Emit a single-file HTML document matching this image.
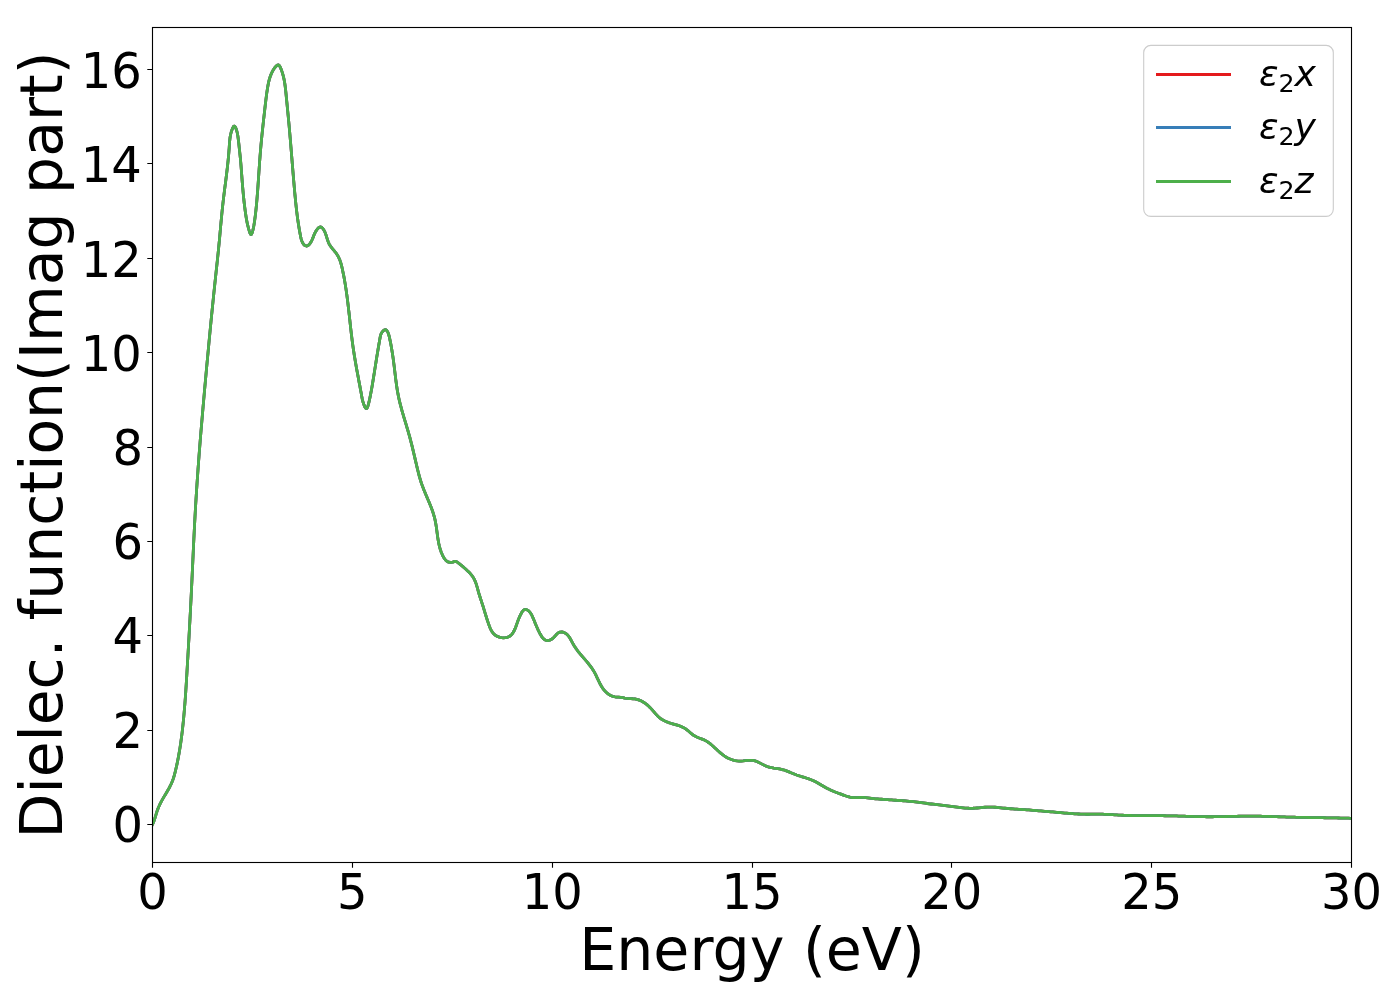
<!DOCTYPE html>
<html><head><meta charset="utf-8"><title>Dielectric function</title>
<style>
html,body{margin:0;padding:0;background:#fff;}
svg{display:block;}
text{font-family:'DejaVu Sans', 'Liberation Sans', sans-serif;fill:#000;}
</style></head><body>
<svg width="1400" height="1000" viewBox="0 0 1400 1000">
<rect x="0" y="0" width="1400" height="1000" fill="#fff"/>
<defs><clipPath id="ax"><rect x="152.5" y="27.5" width="1199.0" height="835.0"/></clipPath></defs>
<g clip-path="url(#ax)" fill="none" stroke-width="2.78" stroke-linejoin="round" stroke-linecap="square">
<path d="M152.50,824.50 153.35,822.69 154.07,820.83 154.71,818.93 155.29,817.01 155.85,815.08 156.43,813.15 157.04,811.25 157.72,809.38 158.46,807.53 159.26,805.71 160.11,803.91 161.01,802.13 161.95,800.37 162.93,798.63 163.93,796.90 164.96,795.18 165.99,793.46 167.01,791.73 168.02,790.00 169.00,788.26 169.94,786.50 170.83,784.72 171.66,782.91 172.42,781.07 173.10,779.19 173.72,777.29 174.29,775.37 174.81,773.43 175.30,771.48 175.77,769.52 176.22,767.56 176.66,765.60 177.08,763.64 177.49,761.68 177.88,759.72 178.26,757.75 178.63,755.78 178.99,753.81 179.33,751.84 179.66,749.87 179.98,747.90 180.28,745.93 180.58,743.95 180.87,741.98 181.14,740.00 181.41,738.02 181.67,736.04 181.92,734.06 182.16,732.08 182.39,730.10 182.61,728.11 182.83,726.13 183.04,724.14 183.25,722.16 183.45,720.17 183.64,718.18 183.83,716.19 184.01,714.20 184.18,712.21 184.36,710.22 184.52,708.23 184.68,706.24 184.84,704.24 184.99,702.25 185.14,700.26 185.29,698.26 185.43,696.27 185.57,694.27 185.71,692.28 185.84,690.28 185.97,688.28 186.10,686.29 186.22,684.29 186.35,682.29 186.47,680.30 186.59,678.30 186.71,676.30 186.83,674.30 186.95,672.30 187.07,670.31 187.19,668.31 187.30,666.31 187.42,664.31 187.54,662.32 187.65,660.32 187.77,658.32 187.89,656.32 188.00,654.32 188.12,652.33 188.23,650.33 188.35,648.33 188.46,646.33 188.58,644.33 188.69,642.34 188.80,640.34 188.92,638.34 189.03,636.34 189.14,634.34 189.25,632.35 189.36,630.35 189.47,628.35 189.58,626.35 189.69,624.36 189.80,622.36 189.91,620.36 190.02,618.36 190.12,616.37 190.23,614.37 190.34,612.37 190.44,610.37 190.55,608.37 190.65,606.38 190.75,604.38 190.85,602.38 190.96,600.38 191.06,598.39 191.16,596.39 191.26,594.39 191.35,592.39 191.45,590.40 191.55,588.40 191.65,586.40 191.74,584.41 191.84,582.41 191.93,580.41 192.02,578.41 192.12,576.42 192.21,574.42 192.30,572.42 192.39,570.42 192.49,568.43 192.58,566.43 192.67,564.43 192.76,562.44 192.85,560.44 192.94,558.44 193.04,556.45 193.13,554.45 193.22,552.45 193.31,550.45 193.41,548.46 193.50,546.46 193.60,544.46 193.69,542.47 193.79,540.47 193.88,538.47 193.98,536.48 194.08,534.48 194.18,532.48 194.28,530.49 194.38,528.49 194.48,526.50 194.58,524.50 194.69,522.50 194.79,520.51 194.90,518.51 195.01,516.51 195.12,514.52 195.23,512.52 195.34,510.53 195.46,508.53 195.57,506.53 195.69,504.54 195.81,502.54 195.93,500.55 196.05,498.55 196.18,496.56 196.30,494.56 196.43,492.56 196.56,490.57 196.69,488.57 196.82,486.58 196.96,484.58 197.09,482.59 197.23,480.59 197.37,478.60 197.50,476.60 197.65,474.61 197.79,472.61 197.93,470.62 198.07,468.62 198.22,466.63 198.37,464.63 198.52,462.64 198.66,460.64 198.82,458.65 198.97,456.65 199.12,454.66 199.27,452.66 199.43,450.67 199.59,448.68 199.74,446.68 199.90,444.69 200.06,442.69 200.22,440.70 200.38,438.71 200.54,436.71 200.71,434.72 200.87,432.72 201.04,430.73 201.20,428.74 201.37,426.74 201.54,424.75 201.71,422.76 201.88,420.76 202.05,418.77 202.22,416.78 202.39,414.78 202.56,412.79 202.74,410.80 202.91,408.80 203.08,406.81 203.26,404.82 203.44,402.83 203.61,400.83 203.79,398.84 203.97,396.85 204.15,394.86 204.32,392.86 204.50,390.87 204.68,388.88 204.86,386.89 205.04,384.90 205.23,382.90 205.41,380.91 205.59,378.92 205.77,376.93 205.96,374.94 206.14,372.95 206.32,370.96 206.51,368.96 206.69,366.97 206.87,364.98 207.06,362.99 207.24,361.00 207.43,359.01 207.61,357.02 207.80,355.03 207.99,353.04 208.17,351.05 208.36,349.06 208.55,347.07 208.74,345.08 208.92,343.08 209.11,341.09 209.30,339.10 209.49,337.11 209.68,335.12 209.87,333.13 210.07,331.15 210.26,329.16 210.45,327.17 210.64,325.18 210.84,323.19 211.03,321.20 211.23,319.21 211.42,317.22 211.62,315.23 211.82,313.24 212.02,311.25 212.22,309.26 212.42,307.27 212.62,305.28 212.82,303.29 213.02,301.30 213.23,299.31 213.43,297.33 213.64,295.34 213.84,293.35 214.05,291.36 214.26,289.37 214.47,287.38 214.68,285.39 214.89,283.40 215.10,281.41 215.32,279.42 215.53,277.44 215.74,275.45 215.96,273.46 216.17,271.47 216.38,269.48 216.60,267.49 216.81,265.50 217.02,263.51 217.23,261.53 217.44,259.54 217.65,257.55 217.86,255.56 218.07,253.57 218.27,251.58 218.47,249.59 218.67,247.60 218.87,245.61 219.07,243.63 219.26,241.64 219.45,239.65 219.64,237.66 219.82,235.67 220.00,233.68 220.18,231.69 220.36,229.70 220.54,227.71 220.72,225.72 220.90,223.74 221.08,221.75 221.26,219.76 221.45,217.77 221.64,215.78 221.83,213.79 222.03,211.80 222.23,209.81 222.44,207.82 222.66,205.83 222.88,203.84 223.11,201.85 223.34,199.86 223.58,197.87 223.82,195.88 224.07,193.89 224.32,191.91 224.57,189.92 224.82,187.93 225.08,185.94 225.33,183.95 225.58,181.96 225.84,179.98 226.09,177.99 226.34,176.00 226.58,174.01 226.82,172.03 227.06,170.04 227.29,168.06 227.51,166.07 227.73,164.09 227.94,162.11 228.15,160.13 228.34,158.14 228.53,156.16 228.70,154.18 228.87,152.20 229.02,150.23 229.17,148.25 229.29,146.27 229.42,144.29 229.56,142.31 229.74,140.32 229.97,138.32 230.27,136.31 230.68,134.28 231.19,132.23 231.85,130.15 232.66,128.06 233.59,126.41 234.56,126.08 235.49,127.35 236.30,129.38 236.93,131.48 237.40,133.53 237.77,135.55 238.06,137.53 238.32,139.50 238.56,141.45 238.78,143.40 239.00,145.35 239.21,147.32 239.42,149.30 239.64,151.30 239.85,153.31 240.07,155.32 240.27,157.34 240.47,159.34 240.65,161.34 240.82,163.34 240.99,165.32 241.15,167.30 241.30,169.28 241.45,171.26 241.59,173.24 241.74,175.22 241.88,177.20 242.03,179.18 242.18,181.17 242.34,183.17 242.50,185.17 242.66,187.18 242.84,189.19 243.02,191.21 243.20,193.22 243.40,195.23 243.60,197.25 243.81,199.25 244.02,201.25 244.25,203.24 244.48,205.23 244.72,207.20 244.97,209.17 245.23,211.11 245.51,213.05 245.79,214.97 246.08,216.87 246.40,218.78 246.75,220.71 247.14,222.67 247.58,224.67 248.09,226.75 248.66,228.89 249.32,231.14 250.05,233.27 250.81,234.56 251.57,234.25 252.28,232.53 252.89,230.26 253.38,228.10 253.78,226.07 254.11,224.12 254.40,222.19 254.68,220.25 254.95,218.29 255.21,216.32 255.45,214.35 255.68,212.36 255.90,210.37 256.11,208.38 256.31,206.38 256.50,204.38 256.69,202.38 256.86,200.38 257.04,198.38 257.20,196.39 257.36,194.39 257.52,192.40 257.67,190.40 257.81,188.41 257.95,186.42 258.09,184.42 258.23,182.43 258.37,180.44 258.50,178.44 258.63,176.45 258.77,174.46 258.90,172.47 259.03,170.48 259.17,168.49 259.30,166.49 259.44,164.50 259.58,162.51 259.72,160.52 259.87,158.53 260.02,156.53 260.18,154.54 260.34,152.55 260.50,150.55 260.68,148.56 260.85,146.56 261.03,144.57 261.22,142.57 261.41,140.58 261.61,138.58 261.81,136.59 262.01,134.59 262.22,132.60 262.43,130.60 262.64,128.61 262.86,126.62 263.07,124.63 263.29,122.63 263.51,120.64 263.74,118.65 263.96,116.66 264.18,114.68 264.41,112.69 264.64,110.70 264.86,108.72 265.09,106.74 265.31,104.76 265.54,102.78 265.77,100.80 266.01,98.82 266.26,96.85 266.52,94.88 266.79,92.91 267.08,90.94 267.39,88.98 267.72,87.01 268.07,85.05 268.46,83.10 268.89,81.15 269.40,79.21 269.98,77.29 270.65,75.38 271.43,73.48 272.33,71.61 273.36,69.76 274.54,68.00 275.88,66.38 277.32,65.17 278.63,65.00 279.70,66.08 280.60,67.89 281.38,69.88 282.08,71.88 282.69,73.87 283.24,75.86 283.72,77.85 284.13,79.84 284.50,81.83 284.82,83.81 285.11,85.80 285.36,87.78 285.59,89.76 285.80,91.75 286.00,93.73 286.19,95.71 286.39,97.69 286.59,99.67 286.79,101.65 286.98,103.63 287.18,105.62 287.38,107.60 287.57,109.58 287.77,111.56 287.96,113.55 288.16,115.53 288.35,117.52 288.54,119.51 288.72,121.50 288.90,123.49 289.09,125.48 289.26,127.47 289.44,129.46 289.62,131.46 289.79,133.45 289.96,135.45 290.13,137.45 290.30,139.44 290.47,141.44 290.64,143.44 290.80,145.44 290.97,147.44 291.13,149.44 291.30,151.43 291.46,153.43 291.62,155.43 291.79,157.43 291.95,159.43 292.11,161.43 292.27,163.42 292.44,165.42 292.60,167.42 292.76,169.41 292.93,171.41 293.09,173.40 293.26,175.39 293.43,177.39 293.60,179.38 293.77,181.37 293.94,183.35 294.11,185.34 294.28,187.33 294.46,189.31 294.64,191.29 294.82,193.27 295.00,195.25 295.19,197.23 295.38,199.21 295.58,201.19 295.78,203.17 295.99,205.15 296.21,207.12 296.43,209.11 296.66,211.09 296.91,213.07 297.16,215.06 297.42,217.04 297.69,219.03 297.97,221.03 298.27,223.02 298.58,225.02 298.90,227.03 299.23,229.03 299.58,231.05 299.95,233.06 300.33,235.08 300.73,237.10 301.21,239.07 301.81,240.94 302.57,242.67 303.55,244.21 304.80,245.49 306.37,246.07 308.13,245.44 309.69,243.95 310.96,242.02 311.97,240.05 312.78,238.17 313.50,236.37 314.20,234.61 314.97,232.88 315.91,231.15 317.09,229.41 318.57,227.76 320.18,226.85 321.74,227.32 323.13,228.87 324.26,230.74 325.15,232.64 325.86,234.55 326.48,236.46 327.05,238.35 327.64,240.22 328.31,242.05 329.10,243.84 330.07,245.56 331.25,247.21 332.56,248.82 333.91,250.42 335.25,252.02 336.47,253.64 337.55,255.32 338.49,257.03 339.31,258.79 340.02,260.58 340.64,262.40 341.18,264.26 341.67,266.14 342.12,268.05 342.54,269.98 342.95,271.93 343.35,273.90 343.74,275.88 344.11,277.87 344.48,279.87 344.83,281.87 345.17,283.88 345.49,285.89 345.81,287.89 346.11,289.90 346.40,291.89 346.68,293.89 346.96,295.88 347.22,297.87 347.48,299.86 347.73,301.85 347.97,303.83 348.20,305.82 348.44,307.80 348.66,309.78 348.89,311.76 349.11,313.73 349.33,315.71 349.54,317.68 349.76,319.66 349.98,321.63 350.19,323.61 350.41,325.58 350.63,327.56 350.85,329.53 351.08,331.50 351.31,333.48 351.54,335.45 351.79,337.43 352.03,339.41 352.29,341.38 352.55,343.36 352.82,345.34 353.10,347.33 353.39,349.31 353.69,351.29 354.00,353.28 354.31,355.27 354.64,357.25 354.97,359.24 355.31,361.23 355.65,363.21 356.00,365.20 356.35,367.18 356.71,369.16 357.07,371.13 357.43,373.11 357.80,375.08 358.17,377.05 358.53,379.01 358.90,380.97 359.27,382.92 359.63,384.87 359.99,386.81 360.36,388.75 360.71,390.67 361.07,392.60 361.42,394.51 361.76,396.42 362.12,398.34 362.57,400.35 363.17,402.52 363.98,404.88 364.95,407.09 365.96,408.46 366.89,408.37 367.67,406.84 368.34,404.59 368.90,402.31 369.39,400.23 369.82,398.28 370.21,396.39 370.58,394.50 370.95,392.58 371.31,390.65 371.66,388.71 372.01,386.75 372.34,384.78 372.68,382.80 373.01,380.81 373.33,378.82 373.65,376.83 373.97,374.83 374.28,372.84 374.59,370.85 374.91,368.87 375.22,366.89 375.53,364.92 375.84,362.96 376.15,361.00 376.46,359.04 376.78,357.08 377.10,355.12 377.42,353.16 377.75,351.20 378.08,349.23 378.41,347.25 378.75,345.26 379.10,343.27 379.45,341.27 379.80,339.29 380.15,337.32 380.56,335.38 381.24,333.48 382.38,331.63 384.00,330.07 385.64,329.60 386.92,330.60 387.88,332.36 388.59,334.25 389.14,336.17 389.59,338.12 390.02,340.08 390.42,342.04 390.81,344.01 391.17,345.98 391.52,347.96 391.86,349.94 392.18,351.92 392.49,353.90 392.79,355.89 393.07,357.88 393.35,359.88 393.62,361.87 393.87,363.86 394.13,365.86 394.37,367.85 394.61,369.85 394.85,371.84 395.09,373.84 395.33,375.83 395.57,377.82 395.82,379.80 396.08,381.79 396.35,383.77 396.63,385.75 396.92,387.72 397.23,389.69 397.56,391.66 397.92,393.61 398.29,395.57 398.69,397.52 399.12,399.46 399.57,401.40 400.04,403.33 400.53,405.26 401.04,407.18 401.56,409.10 402.09,411.02 402.64,412.94 403.20,414.85 403.76,416.77 404.33,418.68 404.91,420.59 405.49,422.51 406.06,424.42 406.64,426.34 407.21,428.26 407.78,430.18 408.34,432.11 408.89,434.04 409.43,435.97 409.96,437.91 410.47,439.85 410.98,441.80 411.47,443.75 411.96,445.70 412.44,447.66 412.91,449.61 413.38,451.57 413.84,453.52 414.29,455.48 414.75,457.43 415.20,459.39 415.66,461.34 416.11,463.29 416.57,465.23 417.03,467.17 417.49,469.11 417.96,471.04 418.45,472.96 418.95,474.88 419.47,476.80 420.02,478.70 420.59,480.60 421.19,482.49 421.83,484.36 422.50,486.23 423.20,488.09 423.93,489.95 424.68,491.80 425.45,493.64 426.23,495.48 427.02,497.33 427.80,499.17 428.59,501.01 429.36,502.86 430.12,504.72 430.86,506.58 431.58,508.45 432.26,510.33 432.91,512.22 433.52,514.12 434.09,516.04 434.60,517.97 435.06,519.93 435.47,521.90 435.83,523.88 436.15,525.87 436.44,527.88 436.72,529.88 436.98,531.89 437.25,533.90 437.52,535.90 437.81,537.90 438.12,539.88 438.47,541.85 438.85,543.81 439.29,545.74 439.79,547.65 440.34,549.54 440.97,551.40 441.68,553.23 442.48,555.02 443.36,556.77 444.35,558.47 445.50,560.03 446.89,561.31 448.60,562.17 450.64,562.49 452.75,562.12 454.71,561.42 456.51,561.72 458.21,562.88 459.84,564.13 461.41,565.38 462.94,566.66 464.43,567.96 465.90,569.30 467.37,570.67 468.83,572.10 470.27,573.57 471.61,575.11 472.79,576.71 473.81,578.37 474.68,580.09 475.44,581.87 476.10,583.69 476.69,585.55 477.24,587.45 477.77,589.37 478.31,591.32 478.87,593.28 479.47,595.25 480.09,597.23 480.73,599.20 481.37,601.16 482.00,603.11 482.62,605.03 483.23,606.93 483.81,608.81 484.38,610.68 484.94,612.53 485.51,614.38 486.08,616.24 486.66,618.11 487.26,619.99 487.89,621.90 488.55,623.83 489.25,625.80 490.01,627.75 490.86,629.65 491.84,631.42 492.97,633.03 494.28,634.41 495.79,635.54 497.48,636.43 499.34,637.10 501.35,637.55 503.46,637.77 505.56,637.72 507.51,637.33 509.22,636.57 510.71,635.49 512.01,634.13 513.13,632.55 514.12,630.80 514.98,628.93 515.75,626.99 516.46,625.03 517.12,623.10 517.77,621.26 518.44,619.50 519.16,617.75 519.97,615.94 520.91,614.02 522.01,611.98 523.32,610.28 524.85,609.47 526.54,609.65 528.22,610.57 529.71,611.96 530.93,613.63 531.93,615.45 532.79,617.35 533.58,619.24 534.34,621.09 535.09,622.91 535.83,624.71 536.58,626.50 537.37,628.29 538.20,630.10 539.09,631.92 540.05,633.77 541.10,635.62 542.27,637.35 543.58,638.84 545.05,639.95 546.71,640.56 548.58,640.55 550.53,639.92 552.35,638.78 553.96,637.27 555.43,635.61 556.86,634.04 558.35,632.78 560.01,632.04 561.84,631.94 563.73,632.40 565.51,633.28 567.06,634.47 568.39,635.91 569.54,637.53 570.58,639.28 571.56,641.09 572.53,642.91 573.55,644.69 574.61,646.41 575.72,648.08 576.88,649.71 578.07,651.30 579.30,652.86 580.55,654.40 581.83,655.92 583.12,657.43 584.43,658.94 585.73,660.45 587.03,661.97 588.31,663.50 589.56,665.06 590.77,666.65 591.93,668.27 593.03,669.93 594.07,671.65 595.03,673.41 595.93,675.21 596.81,677.03 597.66,678.86 598.52,680.69 599.40,682.50 600.32,684.29 601.30,686.03 602.36,687.71 603.52,689.33 604.80,690.86 606.21,692.30 607.75,693.61 609.40,694.75 611.15,695.68 612.97,696.35 614.85,696.76 616.77,697.01 618.74,697.19 620.73,697.40 622.75,697.73 624.78,698.12 626.82,698.42 628.85,698.58 630.86,698.66 632.86,698.76 634.83,698.96 636.75,699.34 638.64,699.89 640.47,700.62 642.25,701.49 643.97,702.51 645.63,703.64 647.22,704.89 648.74,706.23 650.17,707.65 651.54,709.13 652.86,710.64 654.16,712.17 655.47,713.68 656.80,715.14 658.20,716.54 659.68,717.85 661.28,719.04 663.00,720.09 664.82,721.02 666.73,721.84 668.68,722.57 670.64,723.22 672.60,723.81 674.51,724.36 676.35,724.89 678.14,725.42 679.87,726.00 681.56,726.66 683.21,727.43 684.86,728.36 686.49,729.48 688.13,730.81 689.78,732.26 691.46,733.71 693.18,735.02 694.94,736.11 696.74,737.00 698.55,737.75 700.35,738.43 702.14,739.11 703.90,739.83 705.60,740.67 707.24,741.64 708.84,742.74 710.39,743.93 711.92,745.20 713.43,746.53 714.93,747.91 716.43,749.30 717.94,750.69 719.47,752.07 721.03,753.40 722.62,754.67 724.26,755.87 725.96,756.96 727.72,757.94 729.53,758.80 731.38,759.54 733.28,760.13 735.21,760.59 737.17,760.89 739.15,761.04 741.14,761.02 743.15,760.87 745.16,760.66 747.16,760.45 749.16,760.30 751.14,760.27 753.10,760.44 755.03,760.87 756.93,761.55 758.81,762.42 760.67,763.39 762.53,764.39 764.38,765.34 766.24,766.16 768.10,766.81 769.97,767.31 771.86,767.71 773.74,768.03 775.64,768.31 777.54,768.60 779.44,768.91 781.35,769.30 783.26,769.79 785.18,770.41 787.09,771.11 789.01,771.88 790.93,772.68 792.84,773.48 794.76,774.26 796.67,774.98 798.58,775.65 800.49,776.26 802.38,776.85 804.26,777.42 806.13,778.00 807.98,778.60 809.82,779.24 811.63,779.93 813.41,780.69 815.17,781.55 816.91,782.48 818.63,783.47 820.35,784.50 822.06,785.53 823.79,786.55 825.53,787.54 827.30,788.48 829.09,789.35 830.90,790.18 832.74,790.97 834.59,791.74 836.47,792.47 838.36,793.20 840.26,793.92 842.18,794.63 844.11,795.35 846.05,796.04 848.00,796.65 849.95,797.16 851.91,797.51 853.87,797.67 855.84,797.68 857.80,797.61 859.77,797.50 861.74,797.43 863.72,797.45 865.69,797.61 867.67,797.86 869.65,798.14 871.63,798.39 873.61,798.60 875.59,798.77 877.58,798.92 879.56,799.08 881.55,799.24 883.54,799.40 885.52,799.55 887.51,799.70 889.50,799.84 891.48,799.98 893.47,800.11 895.46,800.24 897.45,800.36 899.44,800.49 901.42,800.62 903.41,800.76 905.40,800.92 907.39,801.08 909.38,801.26 911.37,801.46 913.36,801.68 915.34,801.92 917.33,802.17 919.32,802.43 921.31,802.70 923.30,802.97 925.29,803.24 927.28,803.50 929.27,803.76 931.26,804.00 933.25,804.23 935.24,804.46 937.23,804.69 939.22,804.91 941.21,805.13 943.20,805.36 945.19,805.58 947.18,805.82 949.17,806.06 951.16,806.32 953.15,806.58 955.14,806.85 957.13,807.12 959.12,807.38 961.12,807.62 963.11,807.84 965.10,808.02 967.09,808.16 969.08,808.25 971.07,808.29 973.06,808.26 975.06,808.16 977.05,808.01 979.04,807.83 981.03,807.63 983.02,807.43 985.02,807.25 987.01,807.11 989.00,807.03 990.99,807.02 992.99,807.09 994.98,807.24 996.97,807.42 998.96,807.64 1000.96,807.86 1002.95,808.06 1004.94,808.25 1006.94,808.43 1008.93,808.59 1010.92,808.74 1012.91,808.88 1014.91,809.02 1016.90,809.15 1018.90,809.28 1020.89,809.41 1022.88,809.55 1024.88,809.69 1026.87,809.83 1028.86,809.98 1030.86,810.13 1032.85,810.29 1034.85,810.45 1036.84,810.62 1038.84,810.78 1040.83,810.95 1042.82,811.12 1044.82,811.29 1046.81,811.47 1048.81,811.64 1050.80,811.81 1052.80,811.99 1054.79,812.16 1056.79,812.33 1058.78,812.50 1060.78,812.67 1062.77,812.84 1064.77,813.01 1066.76,813.17 1068.76,813.33 1070.75,813.48 1072.75,813.63 1074.74,813.77 1076.74,813.89 1078.74,814.00 1080.73,814.10 1082.73,814.17 1084.72,814.22 1086.72,814.25 1088.72,814.25 1090.71,814.22 1092.71,814.17 1094.70,814.12 1096.70,814.10 1098.70,814.10 1100.69,814.13 1102.69,814.19 1104.69,814.28 1106.68,814.37 1108.68,814.48 1110.68,814.60 1112.67,814.73 1114.67,814.85 1116.67,814.97 1118.66,815.07 1120.66,815.17 1122.66,815.26 1124.65,815.33 1126.65,815.40 1128.65,815.45 1130.65,815.50 1132.64,815.54 1134.64,815.57 1136.64,815.60 1138.64,815.62 1140.63,815.64 1142.63,815.65 1144.63,815.66 1146.63,815.67 1148.62,815.68 1150.62,815.68 1152.62,815.69 1154.62,815.69 1156.61,815.70 1158.61,815.71 1160.61,815.72 1162.61,815.73 1164.61,815.75 1166.60,815.77 1168.60,815.80 1170.60,815.83 1172.60,815.87 1174.60,815.92 1176.60,815.97 1178.59,816.03 1180.59,816.09 1182.59,816.16 1184.59,816.22 1186.59,816.29 1188.59,816.35 1190.59,816.41 1192.58,816.48 1194.58,816.53 1196.58,816.59 1198.58,816.63 1200.58,816.67 1202.58,816.71 1204.58,816.73 1206.58,816.75 1208.57,816.75 1210.57,816.75 1212.57,816.74 1214.57,816.72 1216.57,816.69 1218.57,816.66 1220.57,816.63 1222.57,816.59 1224.57,816.54 1226.57,816.50 1228.57,816.45 1230.57,816.41 1232.56,816.36 1234.56,816.32 1236.56,816.28 1238.56,816.24 1240.56,816.20 1242.56,816.17 1244.56,816.15 1246.56,816.13 1248.56,816.12 1250.56,816.11 1252.56,816.12 1254.56,816.13 1256.56,816.16 1258.56,816.19 1260.56,816.23 1262.56,816.27 1264.56,816.32 1266.56,816.38 1268.56,816.43 1270.56,816.50 1272.56,816.56 1274.56,816.63 1276.56,816.70 1278.56,816.76 1280.56,816.83 1282.56,816.90 1284.56,816.96 1286.56,817.02 1288.56,817.08 1290.56,817.13 1292.56,817.19 1294.56,817.23 1296.56,817.28 1298.56,817.32 1300.56,817.36 1302.56,817.40 1304.56,817.44 1306.56,817.47 1308.56,817.51 1310.56,817.54 1312.56,817.57 1314.56,817.60 1316.56,817.63 1318.56,817.67 1320.56,817.70 1322.56,817.73 1324.56,817.76 1326.56,817.79 1328.56,817.82 1330.56,817.85 1332.56,817.88 1334.56,817.92 1336.56,817.96 1338.56,817.99 1340.56,818.03 1342.56,818.08 1344.56,818.12 1346.56,818.17 1348.57,818.22 1350.57,818.27 1351.50,818.30" stroke="#e41a1c"/>
<path d="M152.50,824.50 153.35,822.69 154.07,820.83 154.71,818.93 155.29,817.01 155.85,815.08 156.43,813.15 157.04,811.25 157.72,809.38 158.46,807.53 159.26,805.71 160.11,803.91 161.01,802.13 161.95,800.37 162.93,798.63 163.93,796.90 164.96,795.18 165.99,793.46 167.01,791.73 168.02,790.00 169.00,788.26 169.94,786.50 170.83,784.72 171.66,782.91 172.42,781.07 173.10,779.19 173.72,777.29 174.29,775.37 174.81,773.43 175.30,771.48 175.77,769.52 176.22,767.56 176.66,765.60 177.08,763.64 177.49,761.68 177.88,759.72 178.26,757.75 178.63,755.78 178.99,753.81 179.33,751.84 179.66,749.87 179.98,747.90 180.28,745.93 180.58,743.95 180.87,741.98 181.14,740.00 181.41,738.02 181.67,736.04 181.92,734.06 182.16,732.08 182.39,730.10 182.61,728.11 182.83,726.13 183.04,724.14 183.25,722.16 183.45,720.17 183.64,718.18 183.83,716.19 184.01,714.20 184.18,712.21 184.36,710.22 184.52,708.23 184.68,706.24 184.84,704.24 184.99,702.25 185.14,700.26 185.29,698.26 185.43,696.27 185.57,694.27 185.71,692.28 185.84,690.28 185.97,688.28 186.10,686.29 186.22,684.29 186.35,682.29 186.47,680.30 186.59,678.30 186.71,676.30 186.83,674.30 186.95,672.30 187.07,670.31 187.19,668.31 187.30,666.31 187.42,664.31 187.54,662.32 187.65,660.32 187.77,658.32 187.89,656.32 188.00,654.32 188.12,652.33 188.23,650.33 188.35,648.33 188.46,646.33 188.58,644.33 188.69,642.34 188.80,640.34 188.92,638.34 189.03,636.34 189.14,634.34 189.25,632.35 189.36,630.35 189.47,628.35 189.58,626.35 189.69,624.36 189.80,622.36 189.91,620.36 190.02,618.36 190.12,616.37 190.23,614.37 190.34,612.37 190.44,610.37 190.55,608.37 190.65,606.38 190.75,604.38 190.85,602.38 190.96,600.38 191.06,598.39 191.16,596.39 191.26,594.39 191.35,592.39 191.45,590.40 191.55,588.40 191.65,586.40 191.74,584.41 191.84,582.41 191.93,580.41 192.02,578.41 192.12,576.42 192.21,574.42 192.30,572.42 192.39,570.42 192.49,568.43 192.58,566.43 192.67,564.43 192.76,562.44 192.85,560.44 192.94,558.44 193.04,556.45 193.13,554.45 193.22,552.45 193.31,550.45 193.41,548.46 193.50,546.46 193.60,544.46 193.69,542.47 193.79,540.47 193.88,538.47 193.98,536.48 194.08,534.48 194.18,532.48 194.28,530.49 194.38,528.49 194.48,526.50 194.58,524.50 194.69,522.50 194.79,520.51 194.90,518.51 195.01,516.51 195.12,514.52 195.23,512.52 195.34,510.53 195.46,508.53 195.57,506.53 195.69,504.54 195.81,502.54 195.93,500.55 196.05,498.55 196.18,496.56 196.30,494.56 196.43,492.56 196.56,490.57 196.69,488.57 196.82,486.58 196.96,484.58 197.09,482.59 197.23,480.59 197.37,478.60 197.50,476.60 197.65,474.61 197.79,472.61 197.93,470.62 198.07,468.62 198.22,466.63 198.37,464.63 198.52,462.64 198.66,460.64 198.82,458.65 198.97,456.65 199.12,454.66 199.27,452.66 199.43,450.67 199.59,448.68 199.74,446.68 199.90,444.69 200.06,442.69 200.22,440.70 200.38,438.71 200.54,436.71 200.71,434.72 200.87,432.72 201.04,430.73 201.20,428.74 201.37,426.74 201.54,424.75 201.71,422.76 201.88,420.76 202.05,418.77 202.22,416.78 202.39,414.78 202.56,412.79 202.74,410.80 202.91,408.80 203.08,406.81 203.26,404.82 203.44,402.83 203.61,400.83 203.79,398.84 203.97,396.85 204.15,394.86 204.32,392.86 204.50,390.87 204.68,388.88 204.86,386.89 205.04,384.90 205.23,382.90 205.41,380.91 205.59,378.92 205.77,376.93 205.96,374.94 206.14,372.95 206.32,370.96 206.51,368.96 206.69,366.97 206.87,364.98 207.06,362.99 207.24,361.00 207.43,359.01 207.61,357.02 207.80,355.03 207.99,353.04 208.17,351.05 208.36,349.06 208.55,347.07 208.74,345.08 208.92,343.08 209.11,341.09 209.30,339.10 209.49,337.11 209.68,335.12 209.87,333.13 210.07,331.15 210.26,329.16 210.45,327.17 210.64,325.18 210.84,323.19 211.03,321.20 211.23,319.21 211.42,317.22 211.62,315.23 211.82,313.24 212.02,311.25 212.22,309.26 212.42,307.27 212.62,305.28 212.82,303.29 213.02,301.30 213.23,299.31 213.43,297.33 213.64,295.34 213.84,293.35 214.05,291.36 214.26,289.37 214.47,287.38 214.68,285.39 214.89,283.40 215.10,281.41 215.32,279.42 215.53,277.44 215.74,275.45 215.96,273.46 216.17,271.47 216.38,269.48 216.60,267.49 216.81,265.50 217.02,263.51 217.23,261.53 217.44,259.54 217.65,257.55 217.86,255.56 218.07,253.57 218.27,251.58 218.47,249.59 218.67,247.60 218.87,245.61 219.07,243.63 219.26,241.64 219.45,239.65 219.64,237.66 219.82,235.67 220.00,233.68 220.18,231.69 220.36,229.70 220.54,227.71 220.72,225.72 220.90,223.74 221.08,221.75 221.26,219.76 221.45,217.77 221.64,215.78 221.83,213.79 222.03,211.80 222.23,209.81 222.44,207.82 222.66,205.83 222.88,203.84 223.11,201.85 223.34,199.86 223.58,197.87 223.82,195.88 224.07,193.89 224.32,191.91 224.57,189.92 224.82,187.93 225.08,185.94 225.33,183.95 225.58,181.96 225.84,179.98 226.09,177.99 226.34,176.00 226.58,174.01 226.82,172.03 227.06,170.04 227.29,168.06 227.51,166.07 227.73,164.09 227.94,162.11 228.15,160.13 228.34,158.14 228.53,156.16 228.70,154.18 228.87,152.20 229.02,150.23 229.17,148.25 229.29,146.27 229.42,144.29 229.56,142.31 229.74,140.32 229.97,138.32 230.27,136.31 230.68,134.28 231.19,132.23 231.85,130.15 232.66,128.06 233.59,126.41 234.56,126.08 235.49,127.35 236.30,129.38 236.93,131.48 237.40,133.53 237.77,135.55 238.06,137.53 238.32,139.50 238.56,141.45 238.78,143.40 239.00,145.35 239.21,147.32 239.42,149.30 239.64,151.30 239.85,153.31 240.07,155.32 240.27,157.34 240.47,159.34 240.65,161.34 240.82,163.34 240.99,165.32 241.15,167.30 241.30,169.28 241.45,171.26 241.59,173.24 241.74,175.22 241.88,177.20 242.03,179.18 242.18,181.17 242.34,183.17 242.50,185.17 242.66,187.18 242.84,189.19 243.02,191.21 243.20,193.22 243.40,195.23 243.60,197.25 243.81,199.25 244.02,201.25 244.25,203.24 244.48,205.23 244.72,207.20 244.97,209.17 245.23,211.11 245.51,213.05 245.79,214.97 246.08,216.87 246.40,218.78 246.75,220.71 247.14,222.67 247.58,224.67 248.09,226.75 248.66,228.89 249.32,231.14 250.05,233.27 250.81,234.56 251.57,234.25 252.28,232.53 252.89,230.26 253.38,228.10 253.78,226.07 254.11,224.12 254.40,222.19 254.68,220.25 254.95,218.29 255.21,216.32 255.45,214.35 255.68,212.36 255.90,210.37 256.11,208.38 256.31,206.38 256.50,204.38 256.69,202.38 256.86,200.38 257.04,198.38 257.20,196.39 257.36,194.39 257.52,192.40 257.67,190.40 257.81,188.41 257.95,186.42 258.09,184.42 258.23,182.43 258.37,180.44 258.50,178.44 258.63,176.45 258.77,174.46 258.90,172.47 259.03,170.48 259.17,168.49 259.30,166.49 259.44,164.50 259.58,162.51 259.72,160.52 259.87,158.53 260.02,156.53 260.18,154.54 260.34,152.55 260.50,150.55 260.68,148.56 260.85,146.56 261.03,144.57 261.22,142.57 261.41,140.58 261.61,138.58 261.81,136.59 262.01,134.59 262.22,132.60 262.43,130.60 262.64,128.61 262.86,126.62 263.07,124.63 263.29,122.63 263.51,120.64 263.74,118.65 263.96,116.66 264.18,114.68 264.41,112.69 264.64,110.70 264.86,108.72 265.09,106.74 265.31,104.76 265.54,102.78 265.77,100.80 266.01,98.82 266.26,96.85 266.52,94.88 266.79,92.91 267.08,90.94 267.39,88.98 267.72,87.01 268.07,85.05 268.46,83.10 268.89,81.15 269.40,79.21 269.98,77.29 270.65,75.38 271.43,73.48 272.33,71.61 273.36,69.76 274.54,68.00 275.88,66.38 277.32,65.17 278.63,65.00 279.70,66.08 280.60,67.89 281.38,69.88 282.08,71.88 282.69,73.87 283.24,75.86 283.72,77.85 284.13,79.84 284.50,81.83 284.82,83.81 285.11,85.80 285.36,87.78 285.59,89.76 285.80,91.75 286.00,93.73 286.19,95.71 286.39,97.69 286.59,99.67 286.79,101.65 286.98,103.63 287.18,105.62 287.38,107.60 287.57,109.58 287.77,111.56 287.96,113.55 288.16,115.53 288.35,117.52 288.54,119.51 288.72,121.50 288.90,123.49 289.09,125.48 289.26,127.47 289.44,129.46 289.62,131.46 289.79,133.45 289.96,135.45 290.13,137.45 290.30,139.44 290.47,141.44 290.64,143.44 290.80,145.44 290.97,147.44 291.13,149.44 291.30,151.43 291.46,153.43 291.62,155.43 291.79,157.43 291.95,159.43 292.11,161.43 292.27,163.42 292.44,165.42 292.60,167.42 292.76,169.41 292.93,171.41 293.09,173.40 293.26,175.39 293.43,177.39 293.60,179.38 293.77,181.37 293.94,183.35 294.11,185.34 294.28,187.33 294.46,189.31 294.64,191.29 294.82,193.27 295.00,195.25 295.19,197.23 295.38,199.21 295.58,201.19 295.78,203.17 295.99,205.15 296.21,207.12 296.43,209.11 296.66,211.09 296.91,213.07 297.16,215.06 297.42,217.04 297.69,219.03 297.97,221.03 298.27,223.02 298.58,225.02 298.90,227.03 299.23,229.03 299.58,231.05 299.95,233.06 300.33,235.08 300.73,237.10 301.21,239.07 301.81,240.94 302.57,242.67 303.55,244.21 304.80,245.49 306.37,246.07 308.13,245.44 309.69,243.95 310.96,242.02 311.97,240.05 312.78,238.17 313.50,236.37 314.20,234.61 314.97,232.88 315.91,231.15 317.09,229.41 318.57,227.76 320.18,226.85 321.74,227.32 323.13,228.87 324.26,230.74 325.15,232.64 325.86,234.55 326.48,236.46 327.05,238.35 327.64,240.22 328.31,242.05 329.10,243.84 330.07,245.56 331.25,247.21 332.56,248.82 333.91,250.42 335.25,252.02 336.47,253.64 337.55,255.32 338.49,257.03 339.31,258.79 340.02,260.58 340.64,262.40 341.18,264.26 341.67,266.14 342.12,268.05 342.54,269.98 342.95,271.93 343.35,273.90 343.74,275.88 344.11,277.87 344.48,279.87 344.83,281.87 345.17,283.88 345.49,285.89 345.81,287.89 346.11,289.90 346.40,291.89 346.68,293.89 346.96,295.88 347.22,297.87 347.48,299.86 347.73,301.85 347.97,303.83 348.20,305.82 348.44,307.80 348.66,309.78 348.89,311.76 349.11,313.73 349.33,315.71 349.54,317.68 349.76,319.66 349.98,321.63 350.19,323.61 350.41,325.58 350.63,327.56 350.85,329.53 351.08,331.50 351.31,333.48 351.54,335.45 351.79,337.43 352.03,339.41 352.29,341.38 352.55,343.36 352.82,345.34 353.10,347.33 353.39,349.31 353.69,351.29 354.00,353.28 354.31,355.27 354.64,357.25 354.97,359.24 355.31,361.23 355.65,363.21 356.00,365.20 356.35,367.18 356.71,369.16 357.07,371.13 357.43,373.11 357.80,375.08 358.17,377.05 358.53,379.01 358.90,380.97 359.27,382.92 359.63,384.87 359.99,386.81 360.36,388.75 360.71,390.67 361.07,392.60 361.42,394.51 361.76,396.42 362.12,398.34 362.57,400.35 363.17,402.52 363.98,404.88 364.95,407.09 365.96,408.46 366.89,408.37 367.67,406.84 368.34,404.59 368.90,402.31 369.39,400.23 369.82,398.28 370.21,396.39 370.58,394.50 370.95,392.58 371.31,390.65 371.66,388.71 372.01,386.75 372.34,384.78 372.68,382.80 373.01,380.81 373.33,378.82 373.65,376.83 373.97,374.83 374.28,372.84 374.59,370.85 374.91,368.87 375.22,366.89 375.53,364.92 375.84,362.96 376.15,361.00 376.46,359.04 376.78,357.08 377.10,355.12 377.42,353.16 377.75,351.20 378.08,349.23 378.41,347.25 378.75,345.26 379.10,343.27 379.45,341.27 379.80,339.29 380.15,337.32 380.56,335.38 381.24,333.48 382.38,331.63 384.00,330.07 385.64,329.60 386.92,330.60 387.88,332.36 388.59,334.25 389.14,336.17 389.59,338.12 390.02,340.08 390.42,342.04 390.81,344.01 391.17,345.98 391.52,347.96 391.86,349.94 392.18,351.92 392.49,353.90 392.79,355.89 393.07,357.88 393.35,359.88 393.62,361.87 393.87,363.86 394.13,365.86 394.37,367.85 394.61,369.85 394.85,371.84 395.09,373.84 395.33,375.83 395.57,377.82 395.82,379.80 396.08,381.79 396.35,383.77 396.63,385.75 396.92,387.72 397.23,389.69 397.56,391.66 397.92,393.61 398.29,395.57 398.69,397.52 399.12,399.46 399.57,401.40 400.04,403.33 400.53,405.26 401.04,407.18 401.56,409.10 402.09,411.02 402.64,412.94 403.20,414.85 403.76,416.77 404.33,418.68 404.91,420.59 405.49,422.51 406.06,424.42 406.64,426.34 407.21,428.26 407.78,430.18 408.34,432.11 408.89,434.04 409.43,435.97 409.96,437.91 410.47,439.85 410.98,441.80 411.47,443.75 411.96,445.70 412.44,447.66 412.91,449.61 413.38,451.57 413.84,453.52 414.29,455.48 414.75,457.43 415.20,459.39 415.66,461.34 416.11,463.29 416.57,465.23 417.03,467.17 417.49,469.11 417.96,471.04 418.45,472.96 418.95,474.88 419.47,476.80 420.02,478.70 420.59,480.60 421.19,482.49 421.83,484.36 422.50,486.23 423.20,488.09 423.93,489.95 424.68,491.80 425.45,493.64 426.23,495.48 427.02,497.33 427.80,499.17 428.59,501.01 429.36,502.86 430.12,504.72 430.86,506.58 431.58,508.45 432.26,510.33 432.91,512.22 433.52,514.12 434.09,516.04 434.60,517.97 435.06,519.93 435.47,521.90 435.83,523.88 436.15,525.87 436.44,527.88 436.72,529.88 436.98,531.89 437.25,533.90 437.52,535.90 437.81,537.90 438.12,539.88 438.47,541.85 438.85,543.81 439.29,545.74 439.79,547.65 440.34,549.54 440.97,551.40 441.68,553.23 442.48,555.02 443.36,556.77 444.35,558.47 445.50,560.03 446.89,561.31 448.60,562.17 450.64,562.49 452.75,562.12 454.71,561.42 456.51,561.72 458.21,562.88 459.84,564.13 461.41,565.38 462.94,566.66 464.43,567.96 465.90,569.30 467.37,570.67 468.83,572.10 470.27,573.57 471.61,575.11 472.79,576.71 473.81,578.37 474.68,580.09 475.44,581.87 476.10,583.69 476.69,585.55 477.24,587.45 477.77,589.37 478.31,591.32 478.87,593.28 479.47,595.25 480.09,597.23 480.73,599.20 481.37,601.16 482.00,603.11 482.62,605.03 483.23,606.93 483.81,608.81 484.38,610.68 484.94,612.53 485.51,614.38 486.08,616.24 486.66,618.11 487.26,619.99 487.89,621.90 488.55,623.83 489.25,625.80 490.01,627.75 490.86,629.65 491.84,631.42 492.97,633.03 494.28,634.41 495.79,635.54 497.48,636.43 499.34,637.10 501.35,637.55 503.46,637.77 505.56,637.72 507.51,637.33 509.22,636.57 510.71,635.49 512.01,634.13 513.13,632.55 514.12,630.80 514.98,628.93 515.75,626.99 516.46,625.03 517.12,623.10 517.77,621.26 518.44,619.50 519.16,617.75 519.97,615.94 520.91,614.02 522.01,611.98 523.32,610.28 524.85,609.47 526.54,609.65 528.22,610.57 529.71,611.96 530.93,613.63 531.93,615.45 532.79,617.35 533.58,619.24 534.34,621.09 535.09,622.91 535.83,624.71 536.58,626.50 537.37,628.29 538.20,630.10 539.09,631.92 540.05,633.77 541.10,635.62 542.27,637.35 543.58,638.84 545.05,639.95 546.71,640.56 548.58,640.55 550.53,639.92 552.35,638.78 553.96,637.27 555.43,635.61 556.86,634.04 558.35,632.78 560.01,632.04 561.84,631.94 563.73,632.40 565.51,633.28 567.06,634.47 568.39,635.91 569.54,637.53 570.58,639.28 571.56,641.09 572.53,642.91 573.55,644.69 574.61,646.41 575.72,648.08 576.88,649.71 578.07,651.30 579.30,652.86 580.55,654.40 581.83,655.92 583.12,657.43 584.43,658.94 585.73,660.45 587.03,661.97 588.31,663.50 589.56,665.06 590.77,666.65 591.93,668.27 593.03,669.93 594.07,671.65 595.03,673.41 595.93,675.21 596.81,677.03 597.66,678.86 598.52,680.69 599.40,682.50 600.32,684.29 601.30,686.03 602.36,687.71 603.52,689.33 604.80,690.86 606.21,692.30 607.75,693.61 609.40,694.75 611.15,695.68 612.97,696.35 614.85,696.76 616.77,697.01 618.74,697.19 620.73,697.40 622.75,697.73 624.78,698.12 626.82,698.42 628.85,698.58 630.86,698.66 632.86,698.76 634.83,698.96 636.75,699.34 638.64,699.89 640.47,700.62 642.25,701.49 643.97,702.51 645.63,703.64 647.22,704.89 648.74,706.23 650.17,707.65 651.54,709.13 652.86,710.64 654.16,712.17 655.47,713.68 656.80,715.14 658.20,716.54 659.68,717.85 661.28,719.04 663.00,720.09 664.82,721.02 666.73,721.84 668.68,722.57 670.64,723.22 672.60,723.81 674.51,724.36 676.35,724.89 678.14,725.42 679.87,726.00 681.56,726.66 683.21,727.43 684.86,728.36 686.49,729.48 688.13,730.81 689.78,732.26 691.46,733.71 693.18,735.02 694.94,736.11 696.74,737.00 698.55,737.75 700.35,738.43 702.14,739.11 703.90,739.83 705.60,740.67 707.24,741.64 708.84,742.74 710.39,743.93 711.92,745.20 713.43,746.53 714.93,747.91 716.43,749.30 717.94,750.69 719.47,752.07 721.03,753.40 722.62,754.67 724.26,755.87 725.96,756.96 727.72,757.94 729.53,758.80 731.38,759.54 733.28,760.13 735.21,760.59 737.17,760.89 739.15,761.04 741.14,761.02 743.15,760.87 745.16,760.66 747.16,760.45 749.16,760.30 751.14,760.27 753.10,760.44 755.03,760.87 756.93,761.55 758.81,762.42 760.67,763.39 762.53,764.39 764.38,765.34 766.24,766.16 768.10,766.81 769.97,767.31 771.86,767.71 773.74,768.03 775.64,768.31 777.54,768.60 779.44,768.91 781.35,769.30 783.26,769.79 785.18,770.41 787.09,771.11 789.01,771.88 790.93,772.68 792.84,773.48 794.76,774.26 796.67,774.98 798.58,775.65 800.49,776.26 802.38,776.85 804.26,777.42 806.13,778.00 807.98,778.60 809.82,779.24 811.63,779.93 813.41,780.69 815.17,781.55 816.91,782.48 818.63,783.47 820.35,784.50 822.06,785.53 823.79,786.55 825.53,787.54 827.30,788.48 829.09,789.35 830.90,790.18 832.74,790.97 834.59,791.74 836.47,792.47 838.36,793.20 840.26,793.92 842.18,794.63 844.11,795.35 846.05,796.04 848.00,796.65 849.95,797.16 851.91,797.51 853.87,797.67 855.84,797.68 857.80,797.61 859.77,797.50 861.74,797.43 863.72,797.45 865.69,797.61 867.67,797.86 869.65,798.14 871.63,798.39 873.61,798.60 875.59,798.77 877.58,798.92 879.56,799.08 881.55,799.24 883.54,799.40 885.52,799.55 887.51,799.70 889.50,799.84 891.48,799.98 893.47,800.11 895.46,800.24 897.45,800.36 899.44,800.49 901.42,800.62 903.41,800.76 905.40,800.92 907.39,801.08 909.38,801.26 911.37,801.46 913.36,801.68 915.34,801.92 917.33,802.17 919.32,802.43 921.31,802.70 923.30,802.97 925.29,803.24 927.28,803.50 929.27,803.76 931.26,804.00 933.25,804.23 935.24,804.46 937.23,804.69 939.22,804.91 941.21,805.13 943.20,805.36 945.19,805.58 947.18,805.82 949.17,806.06 951.16,806.32 953.15,806.58 955.14,806.85 957.13,807.12 959.12,807.38 961.12,807.62 963.11,807.84 965.10,808.02 967.09,808.16 969.08,808.25 971.07,808.29 973.06,808.26 975.06,808.16 977.05,808.01 979.04,807.83 981.03,807.63 983.02,807.43 985.02,807.25 987.01,807.11 989.00,807.03 990.99,807.02 992.99,807.09 994.98,807.24 996.97,807.42 998.96,807.64 1000.96,807.86 1002.95,808.06 1004.94,808.25 1006.94,808.43 1008.93,808.59 1010.92,808.74 1012.91,808.88 1014.91,809.02 1016.90,809.15 1018.90,809.28 1020.89,809.41 1022.88,809.55 1024.88,809.69 1026.87,809.83 1028.86,809.98 1030.86,810.13 1032.85,810.29 1034.85,810.45 1036.84,810.62 1038.84,810.78 1040.83,810.95 1042.82,811.12 1044.82,811.29 1046.81,811.47 1048.81,811.64 1050.80,811.81 1052.80,811.99 1054.79,812.16 1056.79,812.33 1058.78,812.50 1060.78,812.67 1062.77,812.84 1064.77,813.01 1066.76,813.17 1068.76,813.33 1070.75,813.48 1072.75,813.63 1074.74,813.77 1076.74,813.89 1078.74,814.00 1080.73,814.10 1082.73,814.17 1084.72,814.22 1086.72,814.25 1088.72,814.25 1090.71,814.22 1092.71,814.17 1094.70,814.12 1096.70,814.10 1098.70,814.10 1100.69,814.13 1102.69,814.19 1104.69,814.28 1106.68,814.37 1108.68,814.48 1110.68,814.60 1112.67,814.73 1114.67,814.85 1116.67,814.97 1118.66,815.07 1120.66,815.17 1122.66,815.26 1124.65,815.33 1126.65,815.40 1128.65,815.45 1130.65,815.50 1132.64,815.54 1134.64,815.57 1136.64,815.60 1138.64,815.62 1140.63,815.64 1142.63,815.65 1144.63,815.66 1146.63,815.67 1148.62,815.68 1150.62,815.68 1152.62,815.69 1154.62,815.69 1156.61,815.70 1158.61,815.71 1160.61,815.72 1162.61,815.73 1164.61,815.75 1166.60,815.77 1168.60,815.80 1170.60,815.83 1172.60,815.87 1174.60,815.92 1176.60,815.97 1178.59,816.03 1180.59,816.09 1182.59,816.16 1184.59,816.22 1186.59,816.29 1188.59,816.35 1190.59,816.41 1192.58,816.48 1194.58,816.53 1196.58,816.59 1198.58,816.63 1200.58,816.67 1202.58,816.71 1204.58,816.73 1206.58,816.75 1208.57,816.75 1210.57,816.75 1212.57,816.74 1214.57,816.72 1216.57,816.69 1218.57,816.66 1220.57,816.63 1222.57,816.59 1224.57,816.54 1226.57,816.50 1228.57,816.45 1230.57,816.41 1232.56,816.36 1234.56,816.32 1236.56,816.28 1238.56,816.24 1240.56,816.20 1242.56,816.17 1244.56,816.15 1246.56,816.13 1248.56,816.12 1250.56,816.11 1252.56,816.12 1254.56,816.13 1256.56,816.16 1258.56,816.19 1260.56,816.23 1262.56,816.27 1264.56,816.32 1266.56,816.38 1268.56,816.43 1270.56,816.50 1272.56,816.56 1274.56,816.63 1276.56,816.70 1278.56,816.76 1280.56,816.83 1282.56,816.90 1284.56,816.96 1286.56,817.02 1288.56,817.08 1290.56,817.13 1292.56,817.19 1294.56,817.23 1296.56,817.28 1298.56,817.32 1300.56,817.36 1302.56,817.40 1304.56,817.44 1306.56,817.47 1308.56,817.51 1310.56,817.54 1312.56,817.57 1314.56,817.60 1316.56,817.63 1318.56,817.67 1320.56,817.70 1322.56,817.73 1324.56,817.76 1326.56,817.79 1328.56,817.82 1330.56,817.85 1332.56,817.88 1334.56,817.92 1336.56,817.96 1338.56,817.99 1340.56,818.03 1342.56,818.08 1344.56,818.12 1346.56,818.17 1348.57,818.22 1350.57,818.27 1351.50,818.30" stroke="#377eb8"/>
<path d="M152.50,824.50 153.35,822.69 154.07,820.83 154.71,818.93 155.29,817.01 155.85,815.08 156.43,813.15 157.04,811.25 157.72,809.38 158.46,807.53 159.26,805.71 160.11,803.91 161.01,802.13 161.95,800.37 162.93,798.63 163.93,796.90 164.96,795.18 165.99,793.46 167.01,791.73 168.02,790.00 169.00,788.26 169.94,786.50 170.83,784.72 171.66,782.91 172.42,781.07 173.10,779.19 173.72,777.29 174.29,775.37 174.81,773.43 175.30,771.48 175.77,769.52 176.22,767.56 176.66,765.60 177.08,763.64 177.49,761.68 177.88,759.72 178.26,757.75 178.63,755.78 178.99,753.81 179.33,751.84 179.66,749.87 179.98,747.90 180.28,745.93 180.58,743.95 180.87,741.98 181.14,740.00 181.41,738.02 181.67,736.04 181.92,734.06 182.16,732.08 182.39,730.10 182.61,728.11 182.83,726.13 183.04,724.14 183.25,722.16 183.45,720.17 183.64,718.18 183.83,716.19 184.01,714.20 184.18,712.21 184.36,710.22 184.52,708.23 184.68,706.24 184.84,704.24 184.99,702.25 185.14,700.26 185.29,698.26 185.43,696.27 185.57,694.27 185.71,692.28 185.84,690.28 185.97,688.28 186.10,686.29 186.22,684.29 186.35,682.29 186.47,680.30 186.59,678.30 186.71,676.30 186.83,674.30 186.95,672.30 187.07,670.31 187.19,668.31 187.30,666.31 187.42,664.31 187.54,662.32 187.65,660.32 187.77,658.32 187.89,656.32 188.00,654.32 188.12,652.33 188.23,650.33 188.35,648.33 188.46,646.33 188.58,644.33 188.69,642.34 188.80,640.34 188.92,638.34 189.03,636.34 189.14,634.34 189.25,632.35 189.36,630.35 189.47,628.35 189.58,626.35 189.69,624.36 189.80,622.36 189.91,620.36 190.02,618.36 190.12,616.37 190.23,614.37 190.34,612.37 190.44,610.37 190.55,608.37 190.65,606.38 190.75,604.38 190.85,602.38 190.96,600.38 191.06,598.39 191.16,596.39 191.26,594.39 191.35,592.39 191.45,590.40 191.55,588.40 191.65,586.40 191.74,584.41 191.84,582.41 191.93,580.41 192.02,578.41 192.12,576.42 192.21,574.42 192.30,572.42 192.39,570.42 192.49,568.43 192.58,566.43 192.67,564.43 192.76,562.44 192.85,560.44 192.94,558.44 193.04,556.45 193.13,554.45 193.22,552.45 193.31,550.45 193.41,548.46 193.50,546.46 193.60,544.46 193.69,542.47 193.79,540.47 193.88,538.47 193.98,536.48 194.08,534.48 194.18,532.48 194.28,530.49 194.38,528.49 194.48,526.50 194.58,524.50 194.69,522.50 194.79,520.51 194.90,518.51 195.01,516.51 195.12,514.52 195.23,512.52 195.34,510.53 195.46,508.53 195.57,506.53 195.69,504.54 195.81,502.54 195.93,500.55 196.05,498.55 196.18,496.56 196.30,494.56 196.43,492.56 196.56,490.57 196.69,488.57 196.82,486.58 196.96,484.58 197.09,482.59 197.23,480.59 197.37,478.60 197.50,476.60 197.65,474.61 197.79,472.61 197.93,470.62 198.07,468.62 198.22,466.63 198.37,464.63 198.52,462.64 198.66,460.64 198.82,458.65 198.97,456.65 199.12,454.66 199.27,452.66 199.43,450.67 199.59,448.68 199.74,446.68 199.90,444.69 200.06,442.69 200.22,440.70 200.38,438.71 200.54,436.71 200.71,434.72 200.87,432.72 201.04,430.73 201.20,428.74 201.37,426.74 201.54,424.75 201.71,422.76 201.88,420.76 202.05,418.77 202.22,416.78 202.39,414.78 202.56,412.79 202.74,410.80 202.91,408.80 203.08,406.81 203.26,404.82 203.44,402.83 203.61,400.83 203.79,398.84 203.97,396.85 204.15,394.86 204.32,392.86 204.50,390.87 204.68,388.88 204.86,386.89 205.04,384.90 205.23,382.90 205.41,380.91 205.59,378.92 205.77,376.93 205.96,374.94 206.14,372.95 206.32,370.96 206.51,368.96 206.69,366.97 206.87,364.98 207.06,362.99 207.24,361.00 207.43,359.01 207.61,357.02 207.80,355.03 207.99,353.04 208.17,351.05 208.36,349.06 208.55,347.07 208.74,345.08 208.92,343.08 209.11,341.09 209.30,339.10 209.49,337.11 209.68,335.12 209.87,333.13 210.07,331.15 210.26,329.16 210.45,327.17 210.64,325.18 210.84,323.19 211.03,321.20 211.23,319.21 211.42,317.22 211.62,315.23 211.82,313.24 212.02,311.25 212.22,309.26 212.42,307.27 212.62,305.28 212.82,303.29 213.02,301.30 213.23,299.31 213.43,297.33 213.64,295.34 213.84,293.35 214.05,291.36 214.26,289.37 214.47,287.38 214.68,285.39 214.89,283.40 215.10,281.41 215.32,279.42 215.53,277.44 215.74,275.45 215.96,273.46 216.17,271.47 216.38,269.48 216.60,267.49 216.81,265.50 217.02,263.51 217.23,261.53 217.44,259.54 217.65,257.55 217.86,255.56 218.07,253.57 218.27,251.58 218.47,249.59 218.67,247.60 218.87,245.61 219.07,243.63 219.26,241.64 219.45,239.65 219.64,237.66 219.82,235.67 220.00,233.68 220.18,231.69 220.36,229.70 220.54,227.71 220.72,225.72 220.90,223.74 221.08,221.75 221.26,219.76 221.45,217.77 221.64,215.78 221.83,213.79 222.03,211.80 222.23,209.81 222.44,207.82 222.66,205.83 222.88,203.84 223.11,201.85 223.34,199.86 223.58,197.87 223.82,195.88 224.07,193.89 224.32,191.91 224.57,189.92 224.82,187.93 225.08,185.94 225.33,183.95 225.58,181.96 225.84,179.98 226.09,177.99 226.34,176.00 226.58,174.01 226.82,172.03 227.06,170.04 227.29,168.06 227.51,166.07 227.73,164.09 227.94,162.11 228.15,160.13 228.34,158.14 228.53,156.16 228.70,154.18 228.87,152.20 229.02,150.23 229.17,148.25 229.29,146.27 229.42,144.29 229.56,142.31 229.74,140.32 229.97,138.32 230.27,136.31 230.68,134.28 231.19,132.23 231.85,130.15 232.66,128.06 233.59,126.41 234.56,126.08 235.49,127.35 236.30,129.38 236.93,131.48 237.40,133.53 237.77,135.55 238.06,137.53 238.32,139.50 238.56,141.45 238.78,143.40 239.00,145.35 239.21,147.32 239.42,149.30 239.64,151.30 239.85,153.31 240.07,155.32 240.27,157.34 240.47,159.34 240.65,161.34 240.82,163.34 240.99,165.32 241.15,167.30 241.30,169.28 241.45,171.26 241.59,173.24 241.74,175.22 241.88,177.20 242.03,179.18 242.18,181.17 242.34,183.17 242.50,185.17 242.66,187.18 242.84,189.19 243.02,191.21 243.20,193.22 243.40,195.23 243.60,197.25 243.81,199.25 244.02,201.25 244.25,203.24 244.48,205.23 244.72,207.20 244.97,209.17 245.23,211.11 245.51,213.05 245.79,214.97 246.08,216.87 246.40,218.78 246.75,220.71 247.14,222.67 247.58,224.67 248.09,226.75 248.66,228.89 249.32,231.14 250.05,233.27 250.81,234.56 251.57,234.25 252.28,232.53 252.89,230.26 253.38,228.10 253.78,226.07 254.11,224.12 254.40,222.19 254.68,220.25 254.95,218.29 255.21,216.32 255.45,214.35 255.68,212.36 255.90,210.37 256.11,208.38 256.31,206.38 256.50,204.38 256.69,202.38 256.86,200.38 257.04,198.38 257.20,196.39 257.36,194.39 257.52,192.40 257.67,190.40 257.81,188.41 257.95,186.42 258.09,184.42 258.23,182.43 258.37,180.44 258.50,178.44 258.63,176.45 258.77,174.46 258.90,172.47 259.03,170.48 259.17,168.49 259.30,166.49 259.44,164.50 259.58,162.51 259.72,160.52 259.87,158.53 260.02,156.53 260.18,154.54 260.34,152.55 260.50,150.55 260.68,148.56 260.85,146.56 261.03,144.57 261.22,142.57 261.41,140.58 261.61,138.58 261.81,136.59 262.01,134.59 262.22,132.60 262.43,130.60 262.64,128.61 262.86,126.62 263.07,124.63 263.29,122.63 263.51,120.64 263.74,118.65 263.96,116.66 264.18,114.68 264.41,112.69 264.64,110.70 264.86,108.72 265.09,106.74 265.31,104.76 265.54,102.78 265.77,100.80 266.01,98.82 266.26,96.85 266.52,94.88 266.79,92.91 267.08,90.94 267.39,88.98 267.72,87.01 268.07,85.05 268.46,83.10 268.89,81.15 269.40,79.21 269.98,77.29 270.65,75.38 271.43,73.48 272.33,71.61 273.36,69.76 274.54,68.00 275.88,66.38 277.32,65.17 278.63,65.00 279.70,66.08 280.60,67.89 281.38,69.88 282.08,71.88 282.69,73.87 283.24,75.86 283.72,77.85 284.13,79.84 284.50,81.83 284.82,83.81 285.11,85.80 285.36,87.78 285.59,89.76 285.80,91.75 286.00,93.73 286.19,95.71 286.39,97.69 286.59,99.67 286.79,101.65 286.98,103.63 287.18,105.62 287.38,107.60 287.57,109.58 287.77,111.56 287.96,113.55 288.16,115.53 288.35,117.52 288.54,119.51 288.72,121.50 288.90,123.49 289.09,125.48 289.26,127.47 289.44,129.46 289.62,131.46 289.79,133.45 289.96,135.45 290.13,137.45 290.30,139.44 290.47,141.44 290.64,143.44 290.80,145.44 290.97,147.44 291.13,149.44 291.30,151.43 291.46,153.43 291.62,155.43 291.79,157.43 291.95,159.43 292.11,161.43 292.27,163.42 292.44,165.42 292.60,167.42 292.76,169.41 292.93,171.41 293.09,173.40 293.26,175.39 293.43,177.39 293.60,179.38 293.77,181.37 293.94,183.35 294.11,185.34 294.28,187.33 294.46,189.31 294.64,191.29 294.82,193.27 295.00,195.25 295.19,197.23 295.38,199.21 295.58,201.19 295.78,203.17 295.99,205.15 296.21,207.12 296.43,209.11 296.66,211.09 296.91,213.07 297.16,215.06 297.42,217.04 297.69,219.03 297.97,221.03 298.27,223.02 298.58,225.02 298.90,227.03 299.23,229.03 299.58,231.05 299.95,233.06 300.33,235.08 300.73,237.10 301.21,239.07 301.81,240.94 302.57,242.67 303.55,244.21 304.80,245.49 306.37,246.07 308.13,245.44 309.69,243.95 310.96,242.02 311.97,240.05 312.78,238.17 313.50,236.37 314.20,234.61 314.97,232.88 315.91,231.15 317.09,229.41 318.57,227.76 320.18,226.85 321.74,227.32 323.13,228.87 324.26,230.74 325.15,232.64 325.86,234.55 326.48,236.46 327.05,238.35 327.64,240.22 328.31,242.05 329.10,243.84 330.07,245.56 331.25,247.21 332.56,248.82 333.91,250.42 335.25,252.02 336.47,253.64 337.55,255.32 338.49,257.03 339.31,258.79 340.02,260.58 340.64,262.40 341.18,264.26 341.67,266.14 342.12,268.05 342.54,269.98 342.95,271.93 343.35,273.90 343.74,275.88 344.11,277.87 344.48,279.87 344.83,281.87 345.17,283.88 345.49,285.89 345.81,287.89 346.11,289.90 346.40,291.89 346.68,293.89 346.96,295.88 347.22,297.87 347.48,299.86 347.73,301.85 347.97,303.83 348.20,305.82 348.44,307.80 348.66,309.78 348.89,311.76 349.11,313.73 349.33,315.71 349.54,317.68 349.76,319.66 349.98,321.63 350.19,323.61 350.41,325.58 350.63,327.56 350.85,329.53 351.08,331.50 351.31,333.48 351.54,335.45 351.79,337.43 352.03,339.41 352.29,341.38 352.55,343.36 352.82,345.34 353.10,347.33 353.39,349.31 353.69,351.29 354.00,353.28 354.31,355.27 354.64,357.25 354.97,359.24 355.31,361.23 355.65,363.21 356.00,365.20 356.35,367.18 356.71,369.16 357.07,371.13 357.43,373.11 357.80,375.08 358.17,377.05 358.53,379.01 358.90,380.97 359.27,382.92 359.63,384.87 359.99,386.81 360.36,388.75 360.71,390.67 361.07,392.60 361.42,394.51 361.76,396.42 362.12,398.34 362.57,400.35 363.17,402.52 363.98,404.88 364.95,407.09 365.96,408.46 366.89,408.37 367.67,406.84 368.34,404.59 368.90,402.31 369.39,400.23 369.82,398.28 370.21,396.39 370.58,394.50 370.95,392.58 371.31,390.65 371.66,388.71 372.01,386.75 372.34,384.78 372.68,382.80 373.01,380.81 373.33,378.82 373.65,376.83 373.97,374.83 374.28,372.84 374.59,370.85 374.91,368.87 375.22,366.89 375.53,364.92 375.84,362.96 376.15,361.00 376.46,359.04 376.78,357.08 377.10,355.12 377.42,353.16 377.75,351.20 378.08,349.23 378.41,347.25 378.75,345.26 379.10,343.27 379.45,341.27 379.80,339.29 380.15,337.32 380.56,335.38 381.24,333.48 382.38,331.63 384.00,330.07 385.64,329.60 386.92,330.60 387.88,332.36 388.59,334.25 389.14,336.17 389.59,338.12 390.02,340.08 390.42,342.04 390.81,344.01 391.17,345.98 391.52,347.96 391.86,349.94 392.18,351.92 392.49,353.90 392.79,355.89 393.07,357.88 393.35,359.88 393.62,361.87 393.87,363.86 394.13,365.86 394.37,367.85 394.61,369.85 394.85,371.84 395.09,373.84 395.33,375.83 395.57,377.82 395.82,379.80 396.08,381.79 396.35,383.77 396.63,385.75 396.92,387.72 397.23,389.69 397.56,391.66 397.92,393.61 398.29,395.57 398.69,397.52 399.12,399.46 399.57,401.40 400.04,403.33 400.53,405.26 401.04,407.18 401.56,409.10 402.09,411.02 402.64,412.94 403.20,414.85 403.76,416.77 404.33,418.68 404.91,420.59 405.49,422.51 406.06,424.42 406.64,426.34 407.21,428.26 407.78,430.18 408.34,432.11 408.89,434.04 409.43,435.97 409.96,437.91 410.47,439.85 410.98,441.80 411.47,443.75 411.96,445.70 412.44,447.66 412.91,449.61 413.38,451.57 413.84,453.52 414.29,455.48 414.75,457.43 415.20,459.39 415.66,461.34 416.11,463.29 416.57,465.23 417.03,467.17 417.49,469.11 417.96,471.04 418.45,472.96 418.95,474.88 419.47,476.80 420.02,478.70 420.59,480.60 421.19,482.49 421.83,484.36 422.50,486.23 423.20,488.09 423.93,489.95 424.68,491.80 425.45,493.64 426.23,495.48 427.02,497.33 427.80,499.17 428.59,501.01 429.36,502.86 430.12,504.72 430.86,506.58 431.58,508.45 432.26,510.33 432.91,512.22 433.52,514.12 434.09,516.04 434.60,517.97 435.06,519.93 435.47,521.90 435.83,523.88 436.15,525.87 436.44,527.88 436.72,529.88 436.98,531.89 437.25,533.90 437.52,535.90 437.81,537.90 438.12,539.88 438.47,541.85 438.85,543.81 439.29,545.74 439.79,547.65 440.34,549.54 440.97,551.40 441.68,553.23 442.48,555.02 443.36,556.77 444.35,558.47 445.50,560.03 446.89,561.31 448.60,562.17 450.64,562.49 452.75,562.12 454.71,561.42 456.51,561.72 458.21,562.88 459.84,564.13 461.41,565.38 462.94,566.66 464.43,567.96 465.90,569.30 467.37,570.67 468.83,572.10 470.27,573.57 471.61,575.11 472.79,576.71 473.81,578.37 474.68,580.09 475.44,581.87 476.10,583.69 476.69,585.55 477.24,587.45 477.77,589.37 478.31,591.32 478.87,593.28 479.47,595.25 480.09,597.23 480.73,599.20 481.37,601.16 482.00,603.11 482.62,605.03 483.23,606.93 483.81,608.81 484.38,610.68 484.94,612.53 485.51,614.38 486.08,616.24 486.66,618.11 487.26,619.99 487.89,621.90 488.55,623.83 489.25,625.80 490.01,627.75 490.86,629.65 491.84,631.42 492.97,633.03 494.28,634.41 495.79,635.54 497.48,636.43 499.34,637.10 501.35,637.55 503.46,637.77 505.56,637.72 507.51,637.33 509.22,636.57 510.71,635.49 512.01,634.13 513.13,632.55 514.12,630.80 514.98,628.93 515.75,626.99 516.46,625.03 517.12,623.10 517.77,621.26 518.44,619.50 519.16,617.75 519.97,615.94 520.91,614.02 522.01,611.98 523.32,610.28 524.85,609.47 526.54,609.65 528.22,610.57 529.71,611.96 530.93,613.63 531.93,615.45 532.79,617.35 533.58,619.24 534.34,621.09 535.09,622.91 535.83,624.71 536.58,626.50 537.37,628.29 538.20,630.10 539.09,631.92 540.05,633.77 541.10,635.62 542.27,637.35 543.58,638.84 545.05,639.95 546.71,640.56 548.58,640.55 550.53,639.92 552.35,638.78 553.96,637.27 555.43,635.61 556.86,634.04 558.35,632.78 560.01,632.04 561.84,631.94 563.73,632.40 565.51,633.28 567.06,634.47 568.39,635.91 569.54,637.53 570.58,639.28 571.56,641.09 572.53,642.91 573.55,644.69 574.61,646.41 575.72,648.08 576.88,649.71 578.07,651.30 579.30,652.86 580.55,654.40 581.83,655.92 583.12,657.43 584.43,658.94 585.73,660.45 587.03,661.97 588.31,663.50 589.56,665.06 590.77,666.65 591.93,668.27 593.03,669.93 594.07,671.65 595.03,673.41 595.93,675.21 596.81,677.03 597.66,678.86 598.52,680.69 599.40,682.50 600.32,684.29 601.30,686.03 602.36,687.71 603.52,689.33 604.80,690.86 606.21,692.30 607.75,693.61 609.40,694.75 611.15,695.68 612.97,696.35 614.85,696.76 616.77,697.01 618.74,697.19 620.73,697.40 622.75,697.73 624.78,698.12 626.82,698.42 628.85,698.58 630.86,698.66 632.86,698.76 634.83,698.96 636.75,699.34 638.64,699.89 640.47,700.62 642.25,701.49 643.97,702.51 645.63,703.64 647.22,704.89 648.74,706.23 650.17,707.65 651.54,709.13 652.86,710.64 654.16,712.17 655.47,713.68 656.80,715.14 658.20,716.54 659.68,717.85 661.28,719.04 663.00,720.09 664.82,721.02 666.73,721.84 668.68,722.57 670.64,723.22 672.60,723.81 674.51,724.36 676.35,724.89 678.14,725.42 679.87,726.00 681.56,726.66 683.21,727.43 684.86,728.36 686.49,729.48 688.13,730.81 689.78,732.26 691.46,733.71 693.18,735.02 694.94,736.11 696.74,737.00 698.55,737.75 700.35,738.43 702.14,739.11 703.90,739.83 705.60,740.67 707.24,741.64 708.84,742.74 710.39,743.93 711.92,745.20 713.43,746.53 714.93,747.91 716.43,749.30 717.94,750.69 719.47,752.07 721.03,753.40 722.62,754.67 724.26,755.87 725.96,756.96 727.72,757.94 729.53,758.80 731.38,759.54 733.28,760.13 735.21,760.59 737.17,760.89 739.15,761.04 741.14,761.02 743.15,760.87 745.16,760.66 747.16,760.45 749.16,760.30 751.14,760.27 753.10,760.44 755.03,760.87 756.93,761.55 758.81,762.42 760.67,763.39 762.53,764.39 764.38,765.34 766.24,766.16 768.10,766.81 769.97,767.31 771.86,767.71 773.74,768.03 775.64,768.31 777.54,768.60 779.44,768.91 781.35,769.30 783.26,769.79 785.18,770.41 787.09,771.11 789.01,771.88 790.93,772.68 792.84,773.48 794.76,774.26 796.67,774.98 798.58,775.65 800.49,776.26 802.38,776.85 804.26,777.42 806.13,778.00 807.98,778.60 809.82,779.24 811.63,779.93 813.41,780.69 815.17,781.55 816.91,782.48 818.63,783.47 820.35,784.50 822.06,785.53 823.79,786.55 825.53,787.54 827.30,788.48 829.09,789.35 830.90,790.18 832.74,790.97 834.59,791.74 836.47,792.47 838.36,793.20 840.26,793.92 842.18,794.63 844.11,795.35 846.05,796.04 848.00,796.65 849.95,797.16 851.91,797.51 853.87,797.67 855.84,797.68 857.80,797.61 859.77,797.50 861.74,797.43 863.72,797.45 865.69,797.61 867.67,797.86 869.65,798.14 871.63,798.39 873.61,798.60 875.59,798.77 877.58,798.92 879.56,799.08 881.55,799.24 883.54,799.40 885.52,799.55 887.51,799.70 889.50,799.84 891.48,799.98 893.47,800.11 895.46,800.24 897.45,800.36 899.44,800.49 901.42,800.62 903.41,800.76 905.40,800.92 907.39,801.08 909.38,801.26 911.37,801.46 913.36,801.68 915.34,801.92 917.33,802.17 919.32,802.43 921.31,802.70 923.30,802.97 925.29,803.24 927.28,803.50 929.27,803.76 931.26,804.00 933.25,804.23 935.24,804.46 937.23,804.69 939.22,804.91 941.21,805.13 943.20,805.36 945.19,805.58 947.18,805.82 949.17,806.06 951.16,806.32 953.15,806.58 955.14,806.85 957.13,807.12 959.12,807.38 961.12,807.62 963.11,807.84 965.10,808.02 967.09,808.16 969.08,808.25 971.07,808.29 973.06,808.26 975.06,808.16 977.05,808.01 979.04,807.83 981.03,807.63 983.02,807.43 985.02,807.25 987.01,807.11 989.00,807.03 990.99,807.02 992.99,807.09 994.98,807.24 996.97,807.42 998.96,807.64 1000.96,807.86 1002.95,808.06 1004.94,808.25 1006.94,808.43 1008.93,808.59 1010.92,808.74 1012.91,808.88 1014.91,809.02 1016.90,809.15 1018.90,809.28 1020.89,809.41 1022.88,809.55 1024.88,809.69 1026.87,809.83 1028.86,809.98 1030.86,810.13 1032.85,810.29 1034.85,810.45 1036.84,810.62 1038.84,810.78 1040.83,810.95 1042.82,811.12 1044.82,811.29 1046.81,811.47 1048.81,811.64 1050.80,811.81 1052.80,811.99 1054.79,812.16 1056.79,812.33 1058.78,812.50 1060.78,812.67 1062.77,812.84 1064.77,813.01 1066.76,813.17 1068.76,813.33 1070.75,813.48 1072.75,813.63 1074.74,813.77 1076.74,813.89 1078.74,814.00 1080.73,814.10 1082.73,814.17 1084.72,814.22 1086.72,814.25 1088.72,814.25 1090.71,814.22 1092.71,814.17 1094.70,814.12 1096.70,814.10 1098.70,814.10 1100.69,814.13 1102.69,814.19 1104.69,814.28 1106.68,814.37 1108.68,814.48 1110.68,814.60 1112.67,814.73 1114.67,814.85 1116.67,814.97 1118.66,815.07 1120.66,815.17 1122.66,815.26 1124.65,815.33 1126.65,815.40 1128.65,815.45 1130.65,815.50 1132.64,815.54 1134.64,815.57 1136.64,815.60 1138.64,815.62 1140.63,815.64 1142.63,815.65 1144.63,815.66 1146.63,815.67 1148.62,815.68 1150.62,815.68 1152.62,815.69 1154.62,815.69 1156.61,815.70 1158.61,815.71 1160.61,815.72 1162.61,815.73 1164.61,815.75 1166.60,815.77 1168.60,815.80 1170.60,815.83 1172.60,815.87 1174.60,815.92 1176.60,815.97 1178.59,816.03 1180.59,816.09 1182.59,816.16 1184.59,816.22 1186.59,816.29 1188.59,816.35 1190.59,816.41 1192.58,816.48 1194.58,816.53 1196.58,816.59 1198.58,816.63 1200.58,816.67 1202.58,816.71 1204.58,816.73 1206.58,816.75 1208.57,816.75 1210.57,816.75 1212.57,816.74 1214.57,816.72 1216.57,816.69 1218.57,816.66 1220.57,816.63 1222.57,816.59 1224.57,816.54 1226.57,816.50 1228.57,816.45 1230.57,816.41 1232.56,816.36 1234.56,816.32 1236.56,816.28 1238.56,816.24 1240.56,816.20 1242.56,816.17 1244.56,816.15 1246.56,816.13 1248.56,816.12 1250.56,816.11 1252.56,816.12 1254.56,816.13 1256.56,816.16 1258.56,816.19 1260.56,816.23 1262.56,816.27 1264.56,816.32 1266.56,816.38 1268.56,816.43 1270.56,816.50 1272.56,816.56 1274.56,816.63 1276.56,816.70 1278.56,816.76 1280.56,816.83 1282.56,816.90 1284.56,816.96 1286.56,817.02 1288.56,817.08 1290.56,817.13 1292.56,817.19 1294.56,817.23 1296.56,817.28 1298.56,817.32 1300.56,817.36 1302.56,817.40 1304.56,817.44 1306.56,817.47 1308.56,817.51 1310.56,817.54 1312.56,817.57 1314.56,817.60 1316.56,817.63 1318.56,817.67 1320.56,817.70 1322.56,817.73 1324.56,817.76 1326.56,817.79 1328.56,817.82 1330.56,817.85 1332.56,817.88 1334.56,817.92 1336.56,817.96 1338.56,817.99 1340.56,818.03 1342.56,818.08 1344.56,818.12 1346.56,818.17 1348.57,818.22 1350.57,818.27 1351.50,818.30" stroke="#4daf4a"/>
</g>

<rect x="152.5" y="27.5" width="1199.0" height="835.0" fill="none" stroke="#000" stroke-width="1.11" stroke-linejoin="miter"/>
<path d="M152.50,862.5 v5.2 M352.50,862.5 v5.2 M552.50,862.5 v5.2 M752.50,862.5 v5.2 M951.50,862.5 v5.2 M1151.50,862.5 v5.2 M1351.50,862.5 v5.2 M152.5,824.50 h-5.2 M152.5,730.50 h-5.2 M152.5,635.50 h-5.2 M152.5,541.50 h-5.2 M152.5,447.50 h-5.2 M152.5,352.50 h-5.2 M152.5,258.50 h-5.2 M152.5,163.50 h-5.2 M152.5,69.50 h-5.2" stroke="#000" stroke-width="1.11" fill="none"/>
<text transform="translate(152.50,908.9) scale(1,1.03)" font-size="48" text-anchor="middle">0</text>
<text transform="translate(352.33,908.9) scale(1,1.03)" font-size="48" text-anchor="middle">5</text>
<text transform="translate(552.17,908.9) scale(1,1.03)" font-size="48" text-anchor="middle">10</text>
<text transform="translate(752.00,908.9) scale(1,1.03)" font-size="48" text-anchor="middle">15</text>
<text transform="translate(951.83,908.9) scale(1,1.03)" font-size="48" text-anchor="middle">20</text>
<text transform="translate(1151.67,908.9) scale(1,1.03)" font-size="48" text-anchor="middle">25</text>
<text transform="translate(1351.50,908.9) scale(1,1.03)" font-size="48" text-anchor="middle">30</text>
<text transform="translate(143.0,842.00) scale(1,1.03)" font-size="48" text-anchor="end">0</text>
<text transform="translate(143.0,747.62) scale(1,1.03)" font-size="48" text-anchor="end">2</text>
<text transform="translate(143.0,653.25) scale(1,1.03)" font-size="48" text-anchor="end">4</text>
<text transform="translate(143.0,558.88) scale(1,1.03)" font-size="48" text-anchor="end">6</text>
<text transform="translate(143.0,464.50) scale(1,1.03)" font-size="48" text-anchor="end">8</text>
<text transform="translate(141.9,370.93) scale(1,1.03)" font-size="48" text-anchor="end">10</text>
<text transform="translate(141.9,276.55) scale(1,1.03)" font-size="48" text-anchor="end">12</text>
<text transform="translate(141.9,182.18) scale(1,1.03)" font-size="48" text-anchor="end">14</text>
<text transform="translate(141.9,87.80) scale(1,1.03)" font-size="48" text-anchor="end">16</text>
<text x="752.00" y="970.0" font-size="58.6" text-anchor="middle">Energy (eV)</text>
<text transform="translate(62.2,445.00) rotate(-90)" x="0" y="0" font-size="58.33" text-anchor="middle">Dielec. function(Imag part)</text>
<g style="filter:opacity(0.9999)">
<rect x="1143.7" y="45.4" width="189.6" height="171" rx="7.2" ry="7.2" fill="#fff" fill-opacity="0.8" stroke="#cccccc" stroke-width="1.11"/>
<line x1="1157.4" y1="74.5" x2="1229.6" y2="74.5" stroke="#e41a1c" stroke-width="2.78" stroke-linecap="square"/>
<text x="1258.9" y="85.50" font-size="36.11" font-style="italic">ε<tspan font-size="25.28" font-style="normal" dy="6">2</tspan><tspan dy="-6">x</tspan></text>
<line x1="1157.4" y1="127.5" x2="1229.6" y2="127.5" stroke="#377eb8" stroke-width="2.78" stroke-linecap="square"/>
<text x="1258.9" y="139.10" font-size="36.11" font-style="italic">ε<tspan font-size="25.28" font-style="normal" dy="6">2</tspan><tspan dy="-6">y</tspan></text>
<line x1="1157.4" y1="181.5" x2="1229.6" y2="181.5" stroke="#4daf4a" stroke-width="2.78" stroke-linecap="square"/>
<text x="1258.9" y="193.40" font-size="36.11" font-style="italic">ε<tspan font-size="25.28" font-style="normal" dy="6">2</tspan><tspan dy="-6">z</tspan></text>
</g>
</svg>
</body></html>
